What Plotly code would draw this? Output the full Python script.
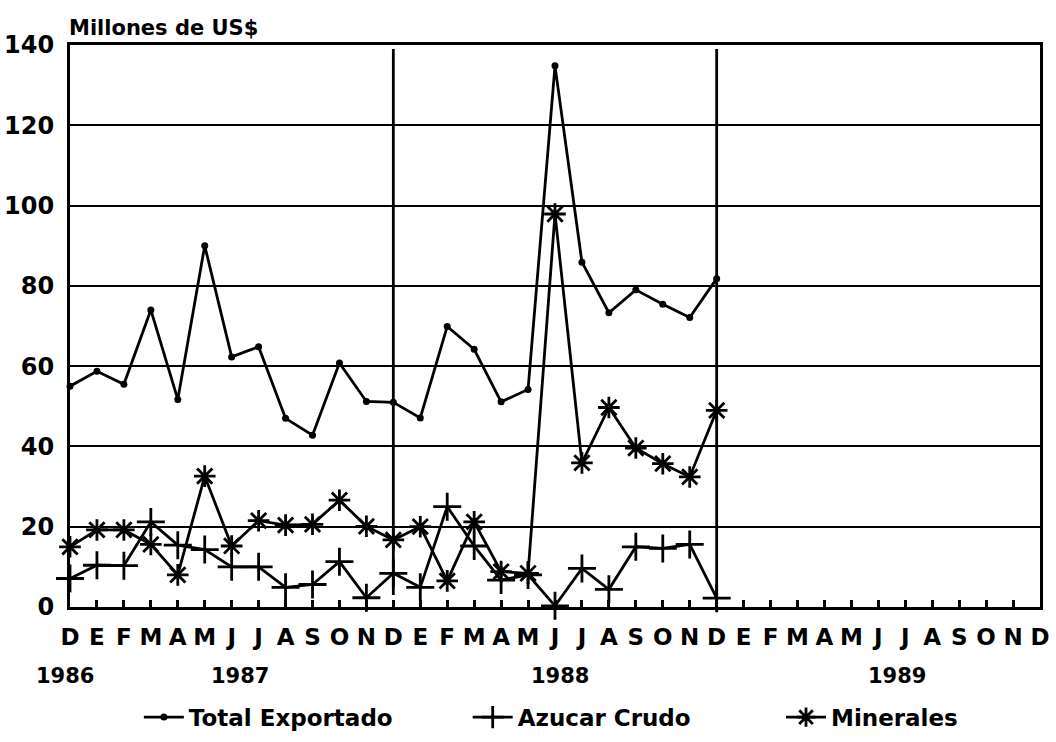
import plotly.graph_objects as go

# Month labels from Dec 1986 to Dec 1989 (Spanish initials)
month_labels = ["D"] + ["E", "F", "M", "A", "M", "J", "J", "A", "S", "O", "N", "D"] * 3
years = ["1986", "1987", "1988", "1989"]
year_pos = [-0.2, 6.3, 18.2, 30.7]   # in month units from Dec 1986
separators = [12, 24]

total_exportado = [55, 58.7, 55.5, 74, 51.7, 90, 62.3, 64.8, 47, 42.8, 60.8, 51.2, 51,
                   47.1, 69.9, 64.2, 51.1, 54.2, 134.8, 85.9, 73.3, 79, 75.4, 72.1, 81.8]
azucar_crudo = [7.1, 10.4, 10.3, 21.2, 15.4, 14.3, 10, 10, 4.9, 5.6, 11.3, 2.3, 8.4,
                4.9, 25, 15.2, 6.7, 8, 0.3, 9.6, 4.4, 15, 14.6, 15.6, 2.2]
minerales = [15, 19.2, 19.2, 15.6, 8, 32.6, 15.2, 21.5, 20.4, 20.6, 26.6, 20.1, 16.7,
             20, 6.5, 21.2, 8.8, 8.4, 97.9, 35.9, 49.7, 39.6, 35.7, 32.4, 49]

x = list(range(len(total_exportado)))
n_months = len(month_labels) - 1
FONT = "DejaVu Sans"

fig = go.Figure()
fig.add_trace(go.Scatter(
    x=x, y=total_exportado, name="Total Exportado", mode="lines+markers",
    line=dict(color="black", width=2.8),
    marker=dict(symbol="circle", size=7, color="black"), cliponaxis=False,
    legend="legend"))
fig.add_trace(go.Scatter(
    x=x, y=azucar_crudo, name="Azucar Crudo", mode="lines+markers",
    line=dict(color="black", width=2.8),
    marker=dict(symbol="cross-thin", size=20, color="black",
                line=dict(color="black", width=2.8)), cliponaxis=False,
    legend="legend2"))
fig.add_trace(go.Scatter(
    x=x, y=minerales, name="Minerales", mode="lines+markers",
    line=dict(color="black", width=2.8),
    marker=dict(symbol="asterisk-open", size=18, color="black",
                line=dict(color="black", width=2.8)), cliponaxis=False,
    legend="legend3"))

for s in separators:
    fig.add_shape(type="line", xref="x", yref="y", x0=s, x1=s, y0=3, y1=139,
                  line=dict(color="black", width=2.8), layer="below")

for yr, p in zip(years, year_pos):
    fig.add_annotation(text=yr, x=p / n_months, xref="paper", y=-0.123, yref="paper",
                       showarrow=False, xanchor="center", yanchor="middle",
                       font=dict(family=FONT, size=21, color="black", weight="bold"))

fig.add_annotation(text="Millones de US$", x=0, xref="paper", y=1.0, yref="paper",
                   xanchor="left", yanchor="bottom", yshift=3, xshift=-3, showarrow=False,
                   font=dict(family=FONT, size=21, color="black", weight="bold"))

leg_common = dict(orientation="h", y=-0.196, yanchor="middle", xanchor="left",
                  font=dict(family=FONT, size=23, color="black", weight="bold"),
                  bgcolor="rgba(0,0,0,0)", itemwidth=40)

fig.update_layout(
    width=1056, height=742,
    margin=dict(l=70, r=16, t=45, b=135, autoexpand=False),
    paper_bgcolor="white", plot_bgcolor="white",
    font=dict(family=FONT, color="black", weight="bold"),
    showlegend=True,
    legend=dict(x=0.071, **leg_common),
    legend2=dict(x=0.410, **leg_common),
    legend3=dict(x=0.733, **leg_common),
)
fig.update_xaxes(
    range=[0, n_months], tickmode="array", tickvals=list(range(len(month_labels))),
    ticktext=month_labels, ticks="inside", ticklen=7, tickwidth=2.5, tickcolor="black",
    showline=True, linecolor="black", linewidth=3, mirror=True,
    showgrid=False, zeroline=False, automargin=False, ticklabelstandoff=7,
    tickfont=dict(family=FONT, size=23, color="black", weight="bold"))
fig.update_yaxes(
    range=[0, 140], tickmode="array", tickvals=[0, 20, 40, 60, 80, 100, 120, 140],
    ticks="", showline=True, linecolor="black", linewidth=3, mirror=True,
    showgrid=True, gridcolor="black", gridwidth=2.2, zeroline=False, automargin=False,
    ticklabelstandoff=8,
    tickfont=dict(family=FONT, size=24, color="black", weight="bold"))

fig.write_html("out.html", config={"displayModeBar": False},
               post_script="document.body.style.margin='0px';")
